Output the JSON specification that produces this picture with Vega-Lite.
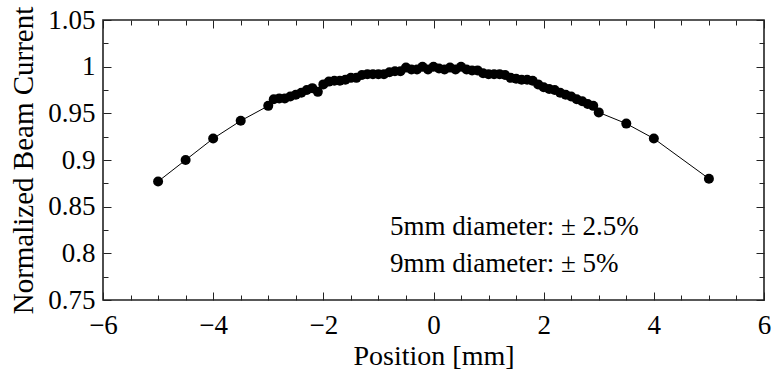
{
  "$schema": "https://vega.github.io/schema/vega-lite/v6.json",
  "width": 661,
  "height": 280,
  "autosize": {"type": "none"},
  "padding": {"left": 103, "top": 20, "right": 8, "bottom": 85},
  "background": "white",
  "config": {
    "view": {"stroke": "#222", "strokeWidth": 1.6},
    "font": "Liberation Serif",
    "axis": {
      "domain": false,
      "grid": false,
      "tickColor": "#222",
      "tickWidth": 1,
      "labelColor": "black",
      "titleColor": "black",
      "labelFont": "Liberation Serif",
      "titleFont": "Liberation Serif",
      "labelFontSize": 27,
      "titleFontSize": 28,
      "titleFontWeight": "normal",
      "labelOverlap": false,
      "labelFlush": false,
      "labelBound": false
    }
  },
  "datasets": {
    "profile": [
      {"pos": -5.0, "current": 0.877},
      {"pos": -4.5, "current": 0.900},
      {"pos": -4.0, "current": 0.923},
      {"pos": -3.5, "current": 0.942},
      {"pos": -3.0, "current": 0.958},
      {"pos": -2.9, "current": 0.965},
      {"pos": -2.8, "current": 0.966},
      {"pos": -2.7, "current": 0.966},
      {"pos": -2.6, "current": 0.968},
      {"pos": -2.5, "current": 0.970},
      {"pos": -2.4, "current": 0.972},
      {"pos": -2.3, "current": 0.975},
      {"pos": -2.2, "current": 0.977},
      {"pos": -2.1, "current": 0.973},
      {"pos": -2.0, "current": 0.981},
      {"pos": -1.9, "current": 0.984},
      {"pos": -1.8, "current": 0.985},
      {"pos": -1.7, "current": 0.985},
      {"pos": -1.6, "current": 0.986},
      {"pos": -1.5, "current": 0.988},
      {"pos": -1.4, "current": 0.988},
      {"pos": -1.3, "current": 0.991},
      {"pos": -1.2, "current": 0.992},
      {"pos": -1.1, "current": 0.992},
      {"pos": -1.0, "current": 0.992},
      {"pos": -0.9, "current": 0.992},
      {"pos": -0.8, "current": 0.994},
      {"pos": -0.7, "current": 0.995},
      {"pos": -0.6, "current": 0.995},
      {"pos": -0.5, "current": 0.999},
      {"pos": -0.4, "current": 0.997},
      {"pos": -0.3, "current": 0.997},
      {"pos": -0.2, "current": 1.000},
      {"pos": -0.1, "current": 0.997},
      {"pos": 0.0, "current": 1.000},
      {"pos": 0.1, "current": 0.998},
      {"pos": 0.2, "current": 0.997},
      {"pos": 0.3, "current": 0.999},
      {"pos": 0.4, "current": 0.997},
      {"pos": 0.5, "current": 1.000},
      {"pos": 0.6, "current": 0.997},
      {"pos": 0.7, "current": 0.996},
      {"pos": 0.8, "current": 0.996},
      {"pos": 0.9, "current": 0.993},
      {"pos": 1.0, "current": 0.992},
      {"pos": 1.1, "current": 0.992},
      {"pos": 1.2, "current": 0.992},
      {"pos": 1.3, "current": 0.991},
      {"pos": 1.4, "current": 0.988},
      {"pos": 1.5, "current": 0.987},
      {"pos": 1.6, "current": 0.986},
      {"pos": 1.7, "current": 0.986},
      {"pos": 1.8, "current": 0.985},
      {"pos": 1.9, "current": 0.981},
      {"pos": 2.0, "current": 0.978},
      {"pos": 2.1, "current": 0.976},
      {"pos": 2.2, "current": 0.975},
      {"pos": 2.3, "current": 0.972},
      {"pos": 2.4, "current": 0.970},
      {"pos": 2.5, "current": 0.968},
      {"pos": 2.6, "current": 0.965},
      {"pos": 2.7, "current": 0.963},
      {"pos": 2.8, "current": 0.960},
      {"pos": 2.9, "current": 0.958},
      {"pos": 3.0, "current": 0.951},
      {"pos": 3.5, "current": 0.939},
      {"pos": 4.0, "current": 0.923},
      {"pos": 5.0, "current": 0.880}
    ],
    "notes": [
      {"pos": -0.79, "current": 0.82, "label": "5mm diameter: ± 2.5%"},
      {"pos": -0.79, "current": 0.7805, "label": "9mm diameter: ± 5%"}
    ]
  },
  "layer": [
    {
      "data": {"name": "profile"},
      "mark": {"type": "line", "color": "black", "strokeWidth": 1},
      "encoding": {
        "x": {
          "field": "pos", "type": "quantitative",
          "scale": {"domain": [-6, 6], "nice": false, "zero": false},
          "axis": {
            "orient": "bottom",
            "title": "Position [mm]",
            "titlePadding": 1,
            "values": [-6, -5.5, -5, -4.5, -4, -3.5, -3, -2.5, -2, -1.5, -1, -0.5, 0, 0.5, 1, 1.5, 2, 2.5, 3, 3.5, 4, 4.5, 5, 5.5, 6],
            "labelExpr": "datum.value % 2 == 0 ? format(datum.value, 'd') : ''",
            "tickSize": {"condition": {"test": "datum.value % 2 == 0", "value": -8}, "value": -5},
            "labelPadding": 20
          }
        },
        "y": {
          "field": "current", "type": "quantitative",
          "scale": {"domain": [0.75, 1.05], "nice": false, "zero": false},
          "axis": {
            "orient": "left",
            "title": "Normalized Beam Current",
            "titleFontSize": 29,
            "titlePadding": 9,
            "values": [0.75, 0.775, 0.8, 0.825, 0.85, 0.875, 0.9, 0.925, 0.95, 0.975, 1.0, 1.025, 1.05],
            "labelExpr": "round(datum.value * 40) % 2 == 0 ? format(datum.value, '.2~f') : ''",
            "tickSize": {"condition": {"test": "round(datum.value * 40) % 2 == 0", "value": -8}, "value": -5},
            "labelPadding": 16
          }
        }
      }
    },
    {
      "data": {"name": "profile"},
      "mark": {"type": "circle", "color": "black", "opacity": 1, "size": 100},
      "encoding": {
        "x": {
          "field": "pos", "type": "quantitative",
          "scale": {"domain": [-6, 6], "nice": false, "zero": false},
          "axis": {
            "orient": "top",
            "title": null,
            "labels": false,
            "values": [-6, -5.5, -5, -4.5, -4, -3.5, -3, -2.5, -2, -1.5, -1, -0.5, 0, 0.5, 1, 1.5, 2, 2.5, 3, 3.5, 4, 4.5, 5, 5.5, 6],
            "tickSize": {"condition": {"test": "datum.value % 2 == 0", "value": -8}, "value": -5}
          }
        },
        "y": {
          "field": "current", "type": "quantitative",
          "scale": {"domain": [0.75, 1.05], "nice": false, "zero": false},
          "axis": {
            "orient": "right",
            "title": null,
            "labels": false,
            "values": [0.75, 0.775, 0.8, 0.825, 0.85, 0.875, 0.9, 0.925, 0.95, 0.975, 1.0, 1.025, 1.05],
            "tickSize": {"condition": {"test": "round(datum.value * 40) % 2 == 0", "value": -8}, "value": -5}
          }
        }
      }
    },
    {
      "data": {"name": "notes"},
      "mark": {"type": "text", "align": "left", "baseline": "alphabetic", "fontSize": 27, "color": "black", "font": "Liberation Serif"},
      "encoding": {
        "x": {"field": "pos", "type": "quantitative", "axis": null},
        "y": {"field": "current", "type": "quantitative", "axis": null},
        "text": {"field": "label"}
      }
    }
  ],
  "resolve": {"axis": {"x": "independent", "y": "independent"}}
}
